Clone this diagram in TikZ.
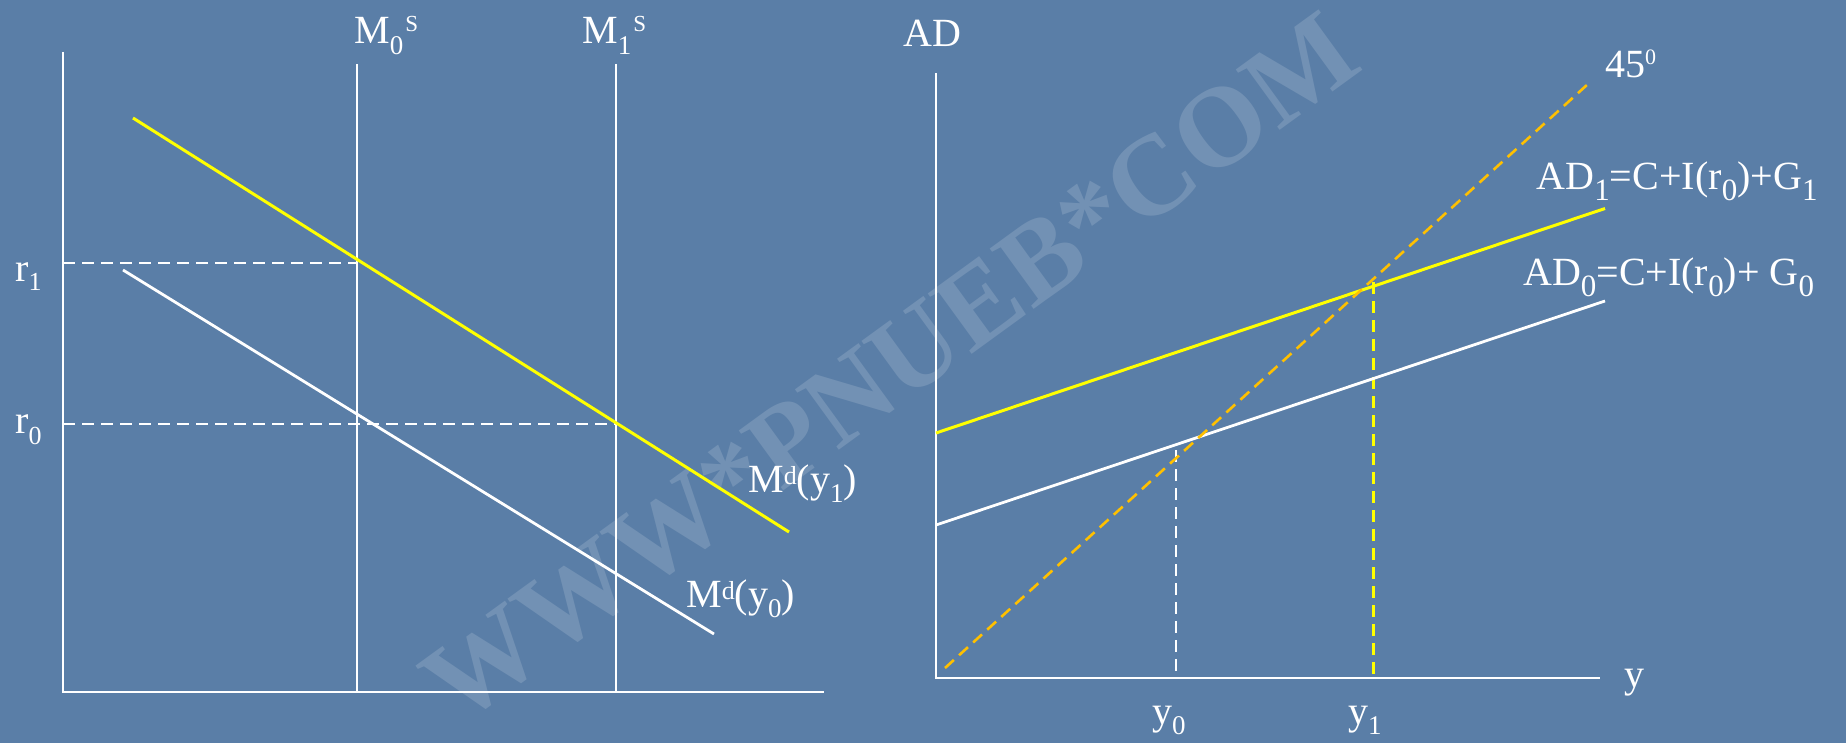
\documentclass[tikz,border=0pt]{standalone}
\usepackage{fontspec}
\setmainfont{Liberation Serif}
\definecolor{bgblue}{RGB}{90,126,167}
\definecolor{ylw}{RGB}{255,255,0}
\definecolor{orng}{RGB}{255,192,0}
\newcommand{\lbl}{\fontsize{40}{44}\selectfont}
\newcommand{\dn}[3]{\raisebox{-#2pt}{\fontsize{#1}{#1}\selectfont #3}}
\newcommand{\upp}[3]{\raisebox{#2pt}{\fontsize{#1}{#1}\selectfont #3}}
\tikzset{
  axisline/.style={draw=white, line width=2.8pt},
  curvew/.style={draw=white, line width=2.8pt},
  curvey/.style={draw=ylw, line width=3pt},
  dashw/.style={draw=white, line width=2.6pt, dash pattern=on 12pt off 7pt},
  dashy/.style={draw=ylw, line width=2.6pt, dash pattern=on 12pt off 7pt},
  dasho/.style={draw=orng, line width=2.6pt, dash pattern=on 12pt off 7pt},
  txt/.style={text=white, anchor=base west, inner sep=0pt, font=\lbl},
}
\begin{document}
\begin{tikzpicture}[x=1pt,y=-1pt]
\fill[bgblue] (0,0) rectangle (1846,743);
\useasboundingbox (0,0) rectangle (1846,743);
% watermark
\node[rotate=36, text=white, text opacity=0.15, inner sep=0pt,
      font=\fontsize{114}{114}\selectfont\bfseries] (wm) at (890,368) {WWW*PNUEB*COM};

% ---------- left panel ----------
\coordinate (Ltop) at (63,52);
\coordinate (Lo) at (63,692);
\coordinate (Lxe) at (824,692);
\coordinate (S0t) at (357,64);
\coordinate (S0b) at (357,692);
\coordinate (S1t) at (616,64);
\coordinate (S1b) at (616,692);
\coordinate (Y1a) at (133,118);
\coordinate (Y1b) at (789,532);
\coordinate (W0a) at (123,270);
\coordinate (W0b) at (714,634);
\coordinate (R1a) at (63,263);
\coordinate (R1b) at (357,263);
\coordinate (R0a) at (63,424);
\coordinate (R0b) at (616,424);

\draw[axisline] (Ltop) -- (Lo) -- (Lxe);
\draw[curvew] (S0t) -- (S0b);
\draw[curvew] (S1t) -- (S1b);
\draw[dashw] (R1a) -- (R1b);
\draw[dashw] (R0a) -- (R0b);
\draw[curvew] (W0a) -- (W0b);
\draw[curvey] (Y1a) -- (Y1b);

\node[txt] (m0s) at (354,43.5) {M\dn{27}{11}{0}\kern2pt\upp{23}{12}{S}};
\node[txt] (m1s) at (582,43.5) {M\dn{27}{11}{1}\kern2pt\upp{23}{12}{S}};
\node[txt] (r1) at (15,281.7) {r\dn{26}{9}{1}};
\node[txt] (r0) at (15,433) {r\dn{26}{11}{0}};
\node[txt] (md1) at (748,492) {M\upp{26}{8}{d}(y\dn{27}{10}{1})};
\node[txt] (md0) at (686,607) {M\upp{26}{8}{d}(y\dn{27}{10}{0})};

% ---------- right panel ----------
\coordinate (Rtop) at (936,73.5);
\coordinate (Ro) at (936,678);
\coordinate (Rxe) at (1600,678);
\coordinate (Fa) at (945,668);
\coordinate (Fb) at (1588,84);
\coordinate (A1a) at (936,433);
\coordinate (A1b) at (1605,208.5);
\coordinate (A0a) at (936,525);
\coordinate (A0b) at (1605,301);
\coordinate (V0t) at (1176,450);
\coordinate (V0b) at (1176,678);
\coordinate (V1t) at (1373.6,282);
\coordinate (V1b) at (1373.6,678);

\draw[axisline] (Rtop) -- (Ro) -- (Rxe);
\draw[dashw] (V0t) -- (V0b);
\draw[dashy] (V1t) -- (V1b);
\draw[curvew] (A0a) -- (A0b);
\draw[curvey] (A1a) -- (A1b);
\draw[dasho] (Fa) -- (Fb);

\node[txt] (ad) at (903,47) {AD};
\node[txt] (deg) at (1605,78) {45\upp{22}{13}{0}};
\node[txt] (ad1) at (1536.5,189.5) {AD\dn{31}{11}{1}=C+I(r\dn{31}{11}{0})+G\dn{31}{11}{1}};
\node[txt] (ad0) at (1523,285) {AD\dn{31}{11}{0}=C+I(r\dn{31}{11}{0})+ G\dn{31}{11}{0}};
\node[txt] (ylab) at (1624,687) {y};
\node[txt] (y0) at (1152,724.5) {y\dn{27}{10}{0}};
\node[txt] (y1) at (1348,724.5) {y\dn{27}{10}{1}};
\end{tikzpicture}
\end{document}
